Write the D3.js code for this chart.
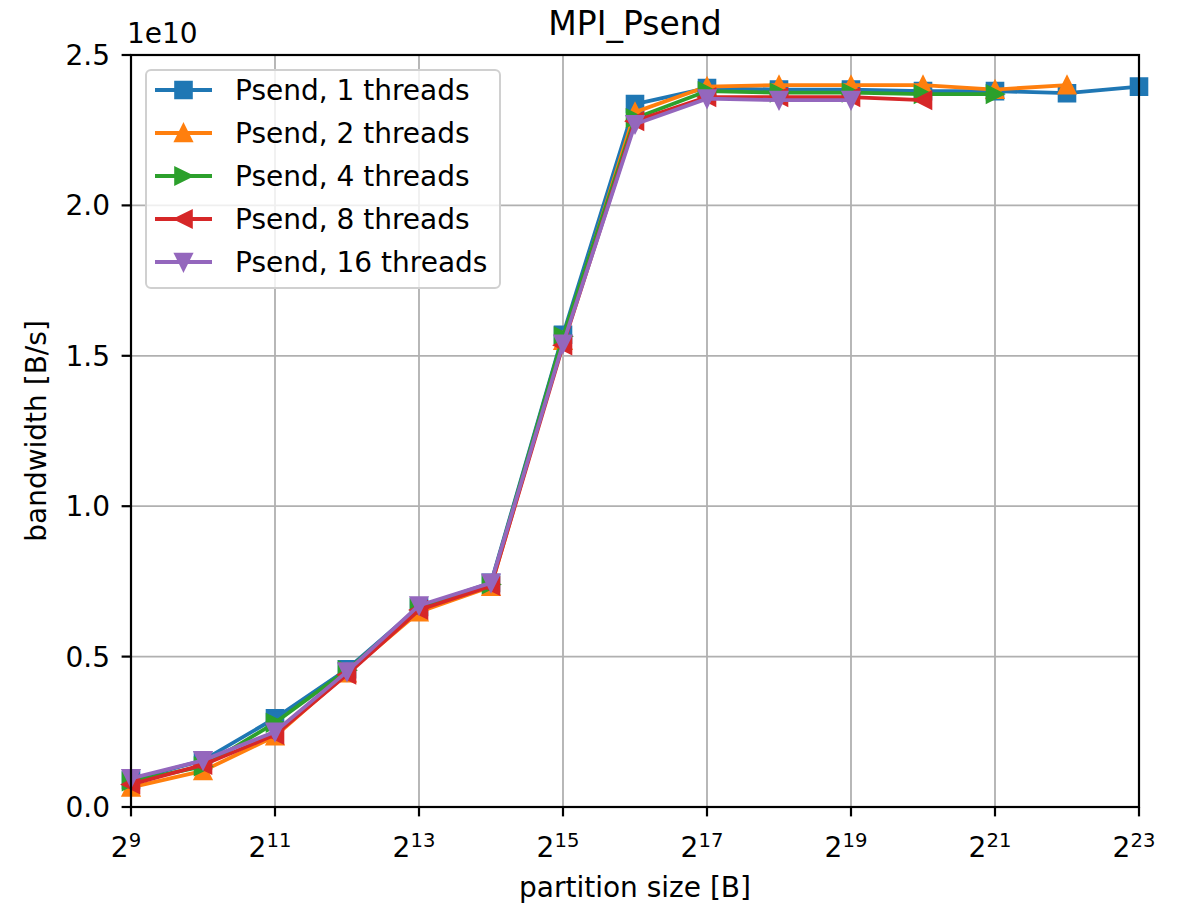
<!DOCTYPE html>
<html>
<head>
<meta charset="utf-8">
<script src="https://cdn.jsdelivr.net/npm/d3@7"></script>
<style>
  body { margin: 0; background: #fff; }
  text { font-family: "DejaVu Sans", sans-serif; fill: #000; }
</style>
</head>
<body>
<div id="chart"></div>
<script>

// partition sizes as powers of two
const exponents = [9, 10, 11, 12, 13, 14, 15, 16, 17, 18, 19, 20, 21, 22, 23];
const xTicks = [9, 11, 13, 15, 17, 19, 21, 23];
const yTicks = [0, 0.5, 1.0, 1.5, 2.0, 2.5];

// bandwidth in units of 1e10 B/s
const threads1 = [0.09, 0.155, 0.295, 0.458, 0.665, 0.745, 1.57, 2.337, 2.39, 2.385, 2.385, 2.38, 2.38, 2.373, 2.395];
const threads2 = [0.065, 0.12, 0.235, 0.445, 0.648, 0.732, 1.55, 2.31, 2.395, 2.4, 2.4, 2.4, 2.385, 2.4];
const threads4 = [0.085, 0.135, 0.28, 0.455, 0.662, 0.74, 1.565, 2.29, 2.38, 2.375, 2.375, 2.37, 2.37];
const threads8 = [0.075, 0.14, 0.24, 0.44, 0.655, 0.735, 1.535, 2.28, 2.36, 2.36, 2.36, 2.35];
const threads16 = [0.095, 0.155, 0.25, 0.45, 0.67, 0.745, 1.54, 2.27, 2.355, 2.35, 2.35];

const seriesNames = ["Psend, 1 threads", "Psend, 2 threads", "Psend, 4 threads", "Psend, 8 threads", "Psend, 16 threads"];
const colors = ["#1f77b4", "#ff7f0e", "#2ca02c", "#d62728", "#9467bd"];
const markers = ["square", "up", "right", "left", "down"];

const series = [threads1, threads2, threads4, threads8, threads16].map((vals, i) => ({
    name: seriesNames[i],
    color: colors[i],
    marker: markers[i],
    points: vals.map((v, j) => ({ e: exponents[j], v: v }))
}));

const width = 1185,
    height = 905,
    margin = ({ top: 55, right: 46, bottom: 98, left: 131 });

const svg = d3.select("#chart")
    .append("svg")
    .attr("width", width)
    .attr("height", height);

svg.append("rect").attr("width", width).attr("height", height).attr("fill", "#fff");

const x = d3.scaleLinear()
    .domain([9, 23])
    .range([margin.left, width - margin.right]);

const y = d3.scaleLinear()
    .domain([0, 2.5])
    .range([height - margin.bottom, margin.top]);

// grid
svg.append("g")
    .selectAll("line")
    .data(xTicks)
    .join("line")
    .attr("x1", d => x(d)).attr("x2", d => x(d))
    .attr("y1", y(0)).attr("y2", y(2.5))
    .attr("stroke", "#b0b0b0")
    .attr("stroke-width", 1.8);

svg.append("g")
    .selectAll("line")
    .data(yTicks)
    .join("line")
    .attr("y1", d => y(d)).attr("y2", d => y(d))
    .attr("x1", x(9)).attr("x2", x(23))
    .attr("stroke", "#b0b0b0")
    .attr("stroke-width", 1.8);

// marker shapes, size ~16px
function markerPath(type, s) {
    const h = s / 2;
    if (type === "square") return `M${-h},${-h}H${h}V${h}H${-h}Z`;
    if (type === "up") return `M0,${-h}L${h},${h}L${-h},${h}Z`;
    if (type === "down") return `M0,${h}L${h},${-h}L${-h},${-h}Z`;
    if (type === "right") return `M${h},0L${-h},${-h}L${-h},${h}Z`;
    if (type === "left") return `M${-h},0L${h},${-h}L${h},${h}Z`;
}

const line = d3.line()
    .x(d => x(d.e))
    .y(d => y(d.v));

const plot = svg.append("g");

for (let s of series) {
    let g = plot.append("g");
    g.append("path")
        .datum(s.points)
        .attr("d", line)
        .attr("fill", "none")
        .attr("stroke", s.color)
        .attr("stroke-width", 3.8)
        .attr("stroke-linejoin", "round");
    g.selectAll("path.mk")
        .data(s.points)
        .join("path")
        .attr("class", "mk")
        .attr("d", markerPath(s.marker, 16))
        .attr("transform", d => `translate(${x(d.e)},${y(d.v)})`)
        .attr("fill", s.color)
        .attr("stroke", s.color)
        .attr("stroke-width", 2.6)
        .attr("stroke-linejoin", "miter");
}

// frame
svg.append("rect")
    .attr("x", x(9)).attr("y", y(2.5))
    .attr("width", x(23) - x(9))
    .attr("height", y(0) - y(2.5))
    .attr("fill", "none")
    .attr("stroke", "#000")
    .attr("stroke-width", 2.2);

// x ticks
const xt = svg.append("g");
xt.selectAll("line")
    .data(xTicks)
    .join("line")
    .attr("x1", d => x(d)).attr("x2", d => x(d))
    .attr("y1", y(0)).attr("y2", y(0) + 9.4)
    .attr("stroke", "#000")
    .attr("stroke-width", 2.2);

let xl = xt.selectAll("text")
    .data(xTicks)
    .join("text")
    .attr("x", d => x(d) - 5)
    .attr("y", 857)
    .attr("text-anchor", "middle")
    .style("font-size", "28px");
xl.append("tspan").text("2");
xl.append("tspan")
    .attr("dy", -10)
    .style("font-size", "19.6px")
    .text(d => d);

// y ticks
const yt = svg.append("g");
yt.selectAll("line")
    .data(yTicks)
    .join("line")
    .attr("x1", x(9) - 9.4).attr("x2", x(9))
    .attr("y1", d => y(d)).attr("y2", d => y(d))
    .attr("stroke", "#000")
    .attr("stroke-width", 2.2);

yt.selectAll("text")
    .data(yTicks)
    .join("text")
    .attr("x", x(9) - 21)
    .attr("y", d => y(d))
    .attr("dy", "0.36em")
    .attr("text-anchor", "end")
    .style("font-size", "28px")
    .text(d => d.toFixed(1));

// offset text
svg.append("text")
    .attr("x", x(9) - 4)
    .attr("y", 43)
    .style("font-size", "28px")
    .text("1e10");

// title and axis labels
svg.append("text")
    .attr("x", (x(9) + x(23)) / 2)
    .attr("y", 35)
    .attr("text-anchor", "middle")
    .style("font-size", "33px")
    .text("MPI_Psend");

svg.append("text")
    .attr("x", (x(9) + x(23)) / 2)
    .attr("y", 897)
    .attr("text-anchor", "middle")
    .style("font-size", "28px")
    .text("partition size [B]");

svg.append("text")
    .attr("transform", `translate(46,${(y(0) + y(2.5)) / 2}) rotate(-90)`)
    .attr("text-anchor", "middle")
    .style("font-size", "28px")
    .text("bandwidth [B/s]");

// legend
const lg = svg.append("g").attr("transform", "translate(146,70)");
lg.append("rect")
    .attr("width", 354)
    .attr("height", 218)
    .attr("rx", 5)
    .attr("fill", "#fff")
    .attr("fill-opacity", 0.8)
    .attr("stroke", "#d0d0d0")
    .attr("stroke-width", 2);

let item = lg.selectAll("g.item")
    .data(series)
    .join("g")
    .attr("class", "item")
    .attr("transform", (d, i) => `translate(0,${20 + i * 43})`);

item.append("line")
    .attr("x1", 9).attr("x2", 66)
    .attr("stroke", d => d.color)
    .attr("stroke-width", 3.8);

item.append("path")
    .attr("d", d => markerPath(d.marker, 16))
    .attr("transform", "translate(37.5,0)")
    .attr("fill", d => d.color)
    .attr("stroke", d => d.color)
    .attr("stroke-width", 2.6);

item.append("text")
    .attr("x", 89)
    .attr("dy", "0.36em")
    .style("font-size", "28px")
    .text(d => d.name);

</script>
</body>
</html>
